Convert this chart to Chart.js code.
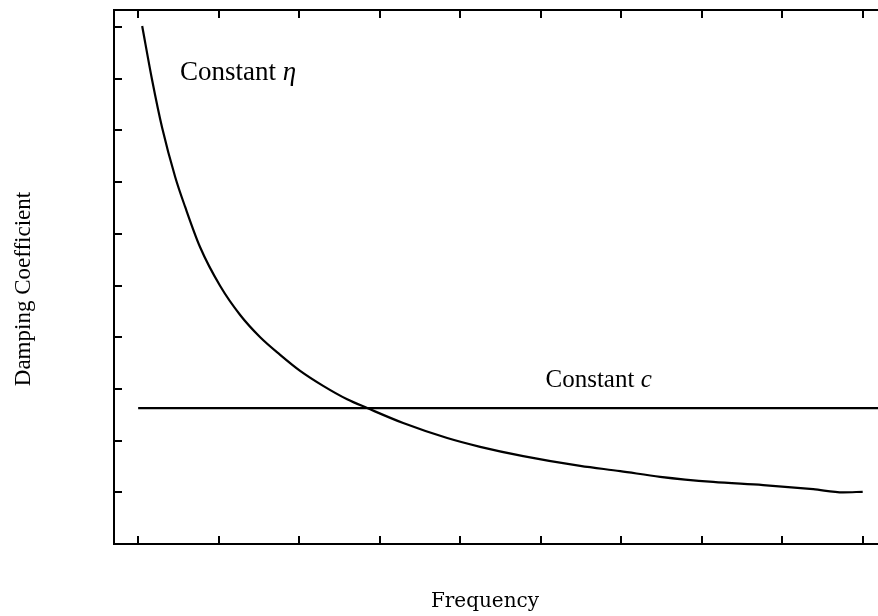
<!DOCTYPE html>
<html>
<head>
<meta charset="utf-8">
<title>Damping Coefficient vs Frequency</title>
<script src="https://cdn.jsdelivr.net/npm/chart.js@4/dist/chart.umd.min.js"></script>
<style>
  html, body { margin: 0; padding: 0; background: #fff; }
  #wrap { position: relative; width: 878px; height: 616px; }
</style>
</head>
<body>
<div id="wrap"><canvas id="chart"></canvas></div>
<script>
// Frequency ticks (arbitrary units) and the y tick positions
const freqTicks = [1, 2, 3, 4, 5, 6, 7, 8, 9, 10];
const dampTicks = [1, 2, 3, 4, 5, 6, 7, 8, 9, 10];

// Constant loss factor: damping falls off with frequency
const etaFreq = [1.05, 1.174, 1.298, 1.46, 1.584, 1.77, 2.019, 2.267, 2.516, 2.764, 3.012, 3.298, 3.596, 3.845,
  4.292, 4.839, 5.248, 5.783, 6.491, 6.988, 7.484, 8.143, 8.764, 9.385, 9.758, 10.0];
const etaDamp = [10.02, 8.97, 8.05, 7.10, 6.52, 5.74, 4.99, 4.43, 4.00, 3.66, 3.35, 3.06, 2.80, 2.63,
  2.34, 2.05, 1.88, 1.70, 1.51, 1.41, 1.30, 1.20, 1.14, 1.06, 1.00, 1.01];

// Constant viscous damping
const cFreq = [1.0, 10.3];
const cDamp = [2.63, 2.63];

const INK = '#000';
const SERIF = '"Liberation Serif", "Times New Roman", serif';

const toXY = (xs, ys) => xs.map((x, i) => ({ x, y: ys[i] }));

// Curve labels, anchored in data units
const curveLabels = [
  { x: 1.52, y: 8.97, text: 'Constant ', sym: 'η', size: 27 },
  { x: 6.06, y: 3.04, text: 'Constant ', sym: 'c', size: 25 },
];

// Box frame: top edge plus inward tick marks on every side that has one
const framePlugin = {
  id: 'frame',
  afterDraw(chart) {
    const { ctx, chartArea: a, scales } = chart;
    ctx.save();
    ctx.strokeStyle = INK;
    ctx.lineWidth = 2;
    ctx.beginPath();
    ctx.moveTo(a.left, a.top);
    ctx.lineTo(a.right, a.top);
    ctx.stroke();

    const len = 8;
    ctx.beginPath();
    freqTicks.forEach((v) => {
      const px = Math.round(scales.x.getPixelForValue(v));
      ctx.moveTo(px, a.bottom);
      ctx.lineTo(px, a.bottom - len);
      ctx.moveTo(px, a.top);
      ctx.lineTo(px, a.top + len);
    });
    dampTicks.forEach((v) => {
      const py = Math.round(scales.y.getPixelForValue(v));
      ctx.moveTo(a.left, py);
      ctx.lineTo(a.left + len, py);
    });
    ctx.stroke();
    ctx.restore();
  },
};

// Axis titles and the two curve labels
const textPlugin = {
  id: 'texts',
  afterDraw(chart) {
    const { ctx, scales } = chart;
    ctx.save();
    ctx.fillStyle = INK;
    ctx.textBaseline = 'alphabetic';

    curveLabels.forEach((l) => {
      const px = scales.x.getPixelForValue(l.x);
      const py = scales.y.getPixelForValue(l.y);
      ctx.font = `${l.size}px ${SERIF}`;
      ctx.textAlign = 'left';
      ctx.fillText(l.text, px, py);
      const w = ctx.measureText(l.text).width;
      ctx.font = `italic ${l.size}px ${SERIF}`;
      ctx.fillText(l.sym, px + w, py);
    });

    ctx.font = '20px "DejaVu Serif", serif';
    ctx.textAlign = 'center';
    ctx.fillText('Frequency', 485, 607);

    ctx.translate(24, 289);
    ctx.rotate(-Math.PI / 2);
    ctx.font = `23px ${SERIF}`;
    ctx.textBaseline = 'middle';
    ctx.fillText('Damping Coefficient', 0, 0);
    ctx.restore();
  },
};

new Chart(document.getElementById('chart'), {
  type: 'line',
  data: {
    datasets: [
      {
        label: 'Constant η',
        data: toXY(etaFreq, etaDamp),
        borderColor: INK,
        borderWidth: 2.2,
        pointRadius: 0,
        cubicInterpolationMode: 'monotone',
      },
      {
        label: 'Constant c',
        data: toXY(cFreq, cDamp),
        borderColor: INK,
        borderWidth: 2.2,
        pointRadius: 0,
      },
    ],
  },
  options: {
    responsive: true,
    maintainAspectRatio: false,
    animation: false,
    layout: { padding: { left: 114, top: 10, right: 0, bottom: 72 } },
    plugins: { legend: { display: false }, tooltip: { enabled: false } },
    scales: {
      x: {
        type: 'linear',
        min: 0.7,
        max: 10.19,
        ticks: { display: false },
        grid: { display: false, drawTicks: false },
        border: { display: true, color: INK, width: 2 },
      },
      y: {
        min: 0,
        max: 10.33,
        ticks: { display: false },
        grid: { display: false, drawTicks: false },
        border: { display: true, color: INK, width: 2 },
      },
    },
  },
  plugins: [framePlugin, textPlugin],
});
</script>
</body>
</html>
